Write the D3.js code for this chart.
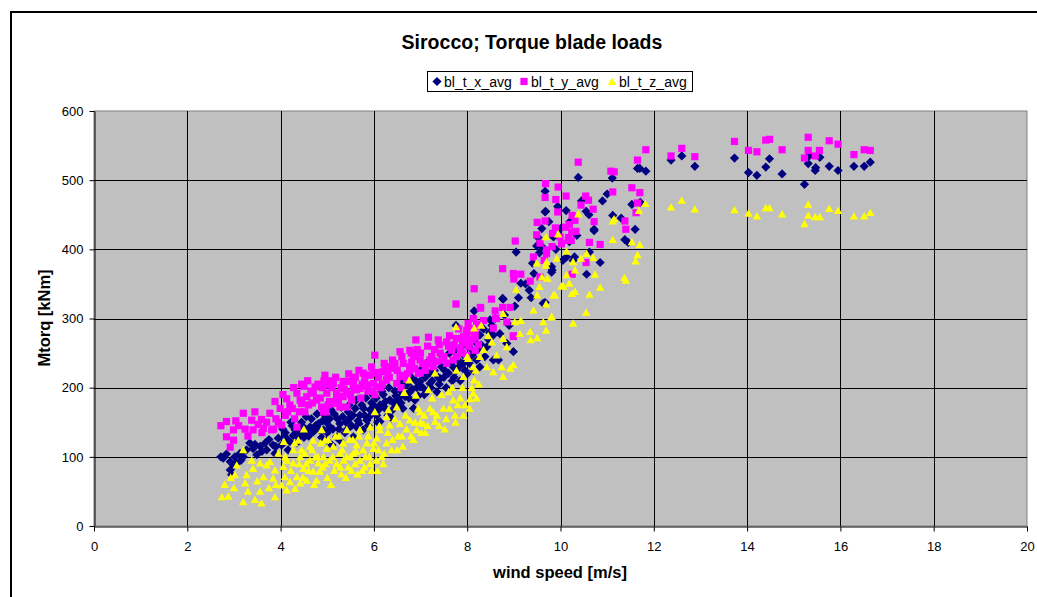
<!DOCTYPE html>
<html>
<head>
<meta charset="utf-8">
<script src="https://cdn.jsdelivr.net/npm/d3@7"></script>
<style>
	body { margin: 0; background: #ffffff; }
	svg { display: block; font-family: "Liberation Sans", Arial, sans-serif; }
</style>
</head>
<body>
<script>
	var chartTitle = "Sirocco; Torque blade loads";
	var xTitle = "wind speed [m/s]";
	var yTitle = "Mtorq [kNm]";
	var seriesNames = [ "bl_t_x_avg", "bl_t_y_avg", "bl_t_z_avg" ];
	var xTicks = [ 0, 2, 4, 6, 8, 10, 12, 14, 16, 18, 20 ];
	var yTicks = [ 0, 100, 200, 300, 400, 500, 600 ];

	// [wind speed, torque]
	var seriesX = [
		[2.72,100],[2.77,98],[2.84,104],[2.92,93],[2.92,81],[2.95,74],[3.02,100],[3.06,91],[3.13,105],[3.20,100],
		[3.27,110],[3.34,120],[3.41,112],[3.49,103],[3.56,115],[3.67,120],[3.70,110],[3.84,117],[3.88,105],[3.95,127],
		[4.02,117],[4.09,129],[4.16,110],[4.20,122],[4.27,131],[4.31,139],[4.42,134],[4.49,143],[4.56,136],[4.63,143],
		[4.70,136],[4.81,148],[4.84,139],[4.92,139],[4.99,124],[5.06,143],[5.10,117],[5.20,129],[5.27,148],[5.27,124],
		[5.42,139],[5.49,156],[5.56,129],[5.63,143],[5.70,160],[5.77,139],[5.85,153],[5.92,168],[6.06,160],[6.13,175],
		[6.13,151],[6.27,168],[6.34,182],[6.38,156],[6.49,175],[6.56,187],[6.56,197],[6.67,187],[6.77,194],[6.77,211],
		[6.88,182],[6.99,201],[6.99,209],[7.20,206],[7.20,221],[7.35,194],[7.42,213],[7.60,221],[7.70,230],[7.77,225],
		[7.92,235],[7.99,240],[8.10,247],[8.13,225],[8.20,264],[7.95,225],[8.27,230],[8.13,250],[8.42,259],[8.56,240],
		[4.05,140],[4.15,125],[4.25,145],[4.38,128],[4.45,150],[4.60,130],[4.66,155],[4.75,145],[4.90,152],[4.95,160],
		[5.00,135],[5.05,155],[5.15,162],[5.25,140],[5.33,158],[5.40,150],[5.45,165],[5.52,145],[5.60,170],[5.66,152],
		[5.74,175],[5.80,160],[5.88,145],[5.95,178],[6.00,165],[6.05,185],[6.10,168],[6.20,190],[6.22,172],[6.30,160],
		[6.42,178],[6.45,195],[6.52,182],[6.60,200],[6.62,170],[6.70,190],[6.72,205],[6.82,198],[6.90,210],[6.95,188],
		[7.05,200],[7.10,215],[7.15,195],[7.25,210],[7.30,225],[7.40,205],[7.45,230],[7.50,215],[7.55,200],[7.65,235],
		[7.72,215],[7.80,240],[7.85,210],[7.90,250],[8.00,220],[8.05,258],[8.20,240],[8.30,262],[8.35,285],[8.45,270],
		[4.10,135],[4.22,150],[4.35,120],[4.50,128],[4.55,158],[4.68,140],[4.78,162],[4.88,128],[4.98,150],[5.08,168],
		[5.12,140],[5.22,155],[5.30,172],[5.38,135],[5.47,175],[5.55,160],[5.62,182],[5.68,148],[5.78,170],[5.83,185],
		[5.90,158],[5.97,190],[6.03,172],[6.08,150],[6.17,195],[6.25,180],[6.32,200],[6.40,168],[6.47,188],[6.55,205],
		[6.58,178],[6.65,210],[6.75,185],[6.80,215],[6.85,170],[6.92,200],[7.00,225],[7.08,190],[7.12,235],[7.22,200],
		[7.28,240],[7.38,215],[7.48,245],[7.52,225],[7.62,250],[7.68,210],[7.75,255],[7.82,230],[7.88,260],[7.95,245],
		[8.05,235],[8.15,270],[8.25,255],[8.38,245],[8.48,280],[3.90,115],[3.75,125],[3.60,108],[3.45,118],[3.15,95],
		[3.00,88],
		[8.67,240],[8.99,252],[8.85,264],[8.56,276],[8.70,278],[8.27,276],[8.53,290],[7.76,290],[8.49,298],[8.15,311],
		[9.02,318],[8.77,328],[8.76,329],[9.37,330],[9.33,341],[9.15,351],[9.43,365],[9.63,322],[9.67,323],[9.05,396],
		[9.49,405],[9.60,404],[9.52,417],[9.81,367],[9.82,370],[9.81,375],[9.85,418],[9.95,420],[10.05,384],[10.13,389],
		[10.27,384],[10.30,389],[10.19,411],[9.67,454],[9.68,455],[9.94,462],[10.12,456],[9.67,484],[10.38,504],[10.55,455],
		[10.61,450],[10.56,364],[10.62,396],[10.72,427],[10.72,429],[10.85,381],[11.11,503],[11.12,449],[11.38,414],[11.53,465],
		[11.60,429],[11.65,517],[11.70,517],[11.71,468],[8.60,300],[8.80,305],[8.90,290],[9.10,330],[9.25,350],[9.40,380],
		[9.55,395],[9.60,430],[9.75,440],[9.90,400],[10.00,430],[10.20,440],[10.35,420],[10.45,470],[10.90,470],[11.00,480],
		[11.30,445],[11.45,410],
		[11.83,513],[12.37,529],[12.60,535],[12.88,520],[13.73,532],[14.03,511],[14.21,507],[14.40,519],[14.48,531],[14.75,509],
		[15.23,494],[15.31,524],[15.33,535],[15.46,514],[15.47,518],[15.56,533],[15.76,520],[15.95,514],[16.29,520],[16.51,520],
		[16.64,526]
	];

	var seriesY = [
		[2.72,145],[2.84,151],[2.99,139],[2.84,129],[2.99,124],[2.92,114],[3.04,152],[3.20,163],[3.24,140],[3.38,153],
		[3.41,139],[3.52,147],[3.59,154],[3.63,141],[3.81,139],[3.77,163],[3.88,180],[3.99,170],[4.02,146],[4.13,184],
		[4.20,175],[4.35,192],[4.35,143],[4.50,202],[4.45,177],[4.56,187],[4.70,192],[4.77,182],[4.74,201],[4.95,218],
		[4.97,165],[5.06,210],[4.99,192],[5.20,192],[5.13,177],[5.42,209],[5.34,187],[5.42,172],[5.63,197],[5.81,218],
		[5.85,204],[5.56,204],[5.99,221],[6.06,201],[6.24,230],[6.38,228],[6.27,211],[6.49,206],[6.63,218],[6.77,230],
		[6.95,221],[7.13,235],[7.17,273],[6.90,269],[6.02,247],[6.56,252],[6.77,254],[7.38,269],[7.56,266],[7.77,271],
		[7.99,276],[8.13,281],[8.02,259],[7.85,257],[7.67,254],[7.42,250],[7.24,245],[6.99,240],[6.81,237],[6.63,235],
		[6.38,230],[6.20,223],[5.92,218],[5.77,221],[5.56,211],[5.34,209],[5.13,206],[4.99,204],[5.42,194],[5.20,187],
		[4.92,165],[5.27,172],[5.70,199],[5.99,206],[6.27,211],[6.56,216],[6.99,221],[6.77,225],[7.27,230],[7.56,235],
		[7.77,245],[7.99,247],[8.17,254],[8.17,273],[4.10,160],[4.25,170],[4.40,165],[4.60,175],[4.65,195],[4.85,185],
		[4.90,200],[5.05,180],[5.30,200],[5.50,190],[5.60,215],[5.75,205],[5.90,195],[6.10,215],[6.15,200],[6.30,220],
		[6.45,235],[6.70,212],[6.85,245],[7.00,250],[7.10,225],[7.30,255],[7.50,245],[7.60,260],[7.70,240],[7.90,265],
		[8.05,285],[4.30,155],[3.70,150],[3.30,130],[3.90,155],
		[4.05,190],[4.15,165],[4.28,200],[4.42,182],[4.52,165],[4.58,210],[4.68,178],[4.80,205],[4.88,172],[4.93,210],
		[5.02,175],[5.10,200],[5.18,215],[5.24,180],[5.36,198],[5.46,220],[5.52,182],[5.58,200],[5.68,225],[5.72,185],
		[5.80,208],[5.87,195],[5.95,230],[6.02,190],[6.08,222],[6.18,205],[6.22,235],[6.33,215],[6.40,240],[6.50,225],
		[6.58,200],[6.60,245],[6.72,220],[6.80,250],[6.88,228],[6.93,255],[7.05,235],[7.15,260],[7.20,240],[7.35,238],
		[7.40,262],[7.48,240],[7.62,275],[7.72,262],[7.82,285],[7.88,250],[7.95,265],[8.10,270],[8.20,292],[3.45,165],
		[3.60,135],[3.95,150],[4.45,205],[3.10,145],[3.85,140],
		[8.15,343],[8.52,328],[7.76,321],[8.28,316],[8.92,316],[8.61,300],[8.35,297],[8.99,275],[8.02,293],[8.29,315],
		[8.60,311],[8.76,316],[8.13,300],[8.63,300],[8.85,295],[8.56,286],[7.99,283],[8.17,281],[7.92,274],[8.06,266],
		[8.24,262],[8.99,274],[8.99,365],[9.15,364],[9.35,354],[8.76,372],[9.03,412],[9.00,357],[9.42,389],[9.49,421],
		[9.50,439],[9.56,409],[9.82,404],[9.70,394],[9.65,384],[9.99,418],[10.17,413],[10.24,425],[9.56,360],
		[9.68,495],[9.95,490],[9.67,475],[9.90,472],[10.12,477],[10.54,477],[10.60,471],[10.44,464],[10.38,526],[11.08,513],
		[11.15,512],[11.53,489],[11.70,482],[11.12,483],[11.65,467],[10.70,458],[9.94,454],[11.62,453],[10.25,449],[9.67,441],
		[10.72,440],[11.38,441],[10.19,436],[10.31,442],[11.40,429],[9.89,431],[10.11,432],[10.33,426],[9.83,423],[10.17,417],
		[10.23,413],[10.62,410],[10.85,407],[10.02,408],[9.70,399],[10.55,381],[10.25,364],[11.65,529],
		[11.83,544],[12.37,535],[12.60,546],[12.88,534],[13.73,556],[14.03,543],[14.21,541],[14.40,558],[14.48,559],[14.75,544],
		[15.31,562],[15.31,543],[15.23,532],[15.46,535],[15.55,543],[15.76,557],[15.95,552],[16.29,537],[16.51,544],[16.64,543]
	];

	var seriesZ = [
		[2.74,42],[2.88,43],[2.93,70],[3.02,74],[3.06,88],[3.20,35],[3.24,62],[3.27,74],[3.41,83],[3.56,91],
		[3.38,95],[3.45,38],[3.56,50],[3.59,33],[3.63,71],[3.70,88],[3.84,69],[3.88,42],[3.88,81],[3.77,93],
		[4.02,59],[4.06,86],[4.13,52],[4.09,71],[4.20,64],[4.13,95],[4.27,91],[4.35,71],[4.31,54],[4.42,100],
		[4.42,62],[4.49,83],[4.56,66],[4.63,95],[4.70,79],[4.77,66],[4.81,91],[4.84,79],[4.63,115],[4.45,110],
		[4.27,110],[4.07,122],[4.38,124],[4.70,124],[3.20,110],[2.80,60],[3.00,55],
		[7.31,221],[6.76,211],[7.17,197],[7.77,225],[8.02,242],[8.15,211],[7.60,194],[6.90,189],[6.65,193],[6.49,172],
		[6.02,165],[6.31,168],[6.99,165],[7.27,165],[7.49,170],[7.70,182],[7.92,160],[7.74,160],[8.06,184],[8.13,192],
		[6.77,153],[6.56,148],[6.34,146],[7.06,148],[6.92,139],[7.31,151],[6.27,158],[6.13,139],[5.92,143],[5.70,139],
		[6.06,127],[5.85,120],[5.63,117],[5.42,139],[5.34,120],[5.13,115],[4.99,112],[4.92,100],[5.27,105],[5.56,105],
		[5.77,110],[5.99,112],[6.27,120],[6.17,100],[4.88,139],[4.95,124],
		[4.90,85],[5.00,70],[5.05,95],[5.15,80],[5.20,90],[5.30,75],[5.35,95],[5.45,85],[5.50,100],[5.60,90],
		[5.65,75],[5.70,95],[5.80,85],[5.90,100],[5.95,80],[6.05,95],[6.10,110],[6.20,90],[6.40,125],[6.50,110],
		[6.60,130],[6.70,140],[6.85,125],[7.00,150],[7.10,135],[7.20,170],[7.40,145],[7.55,155],[7.80,175],[7.90,200],
		[8.05,170],[8.20,185],[4.55,90],[4.75,100],[5.25,130],[5.55,125],[4.50,140],
		[4.10,100],[4.22,80],[4.30,120],[4.40,90],[4.48,70],[4.52,105],[4.60,80],[4.68,110],[4.72,60],[4.80,100],
		[4.86,120],[4.96,90],[5.02,125],[5.08,60],[5.12,100],[5.18,130],[5.28,85],[5.32,110],[5.40,70],[5.42,100],
		[5.48,125],[5.52,80],[5.62,108],[5.68,130],[5.75,80],[5.82,100],[5.88,130],[5.92,90],[6.00,120],[6.08,80],
		[6.12,145],[6.22,105],[6.30,135],[6.38,110],[6.45,155],[6.52,130],[6.62,115],[6.68,160],[6.80,130],[6.88,150],
		[6.95,170],[7.02,135],[7.08,160],[7.15,145],[7.25,185],[7.35,160],[7.45,190],[7.52,140],[7.62,170],[7.68,200],
		[7.75,150],[7.85,185],[7.95,175],[8.10,200],[8.18,225],[8.25,205],[8.35,255],[8.42,230],[8.45,275],[8.30,290],
		[3.90,60],[3.95,105],[3.50,65],[3.30,50],[3.75,55],
		[8.77,307],[9.02,295],[9.35,281],[9.50,272],[9.36,269],[9.63,295],[9.69,283],[9.81,302],[10.27,293],[8.53,266],
		[8.77,271],[8.85,259],[9.13,278],[8.63,247],[8.00,245],[8.27,245],[8.13,230],[8.74,230],[8.92,228],[8.99,233],
		[8.56,223],[8.77,216],[7.92,216],[9.70,382],[9.49,380],[9.60,360],[10.13,363],[9.85,334],[9.50,334],[10.31,339],
		[9.05,342],[9.42,312],[9.69,321],[8.15,286],[7.76,288],[9.15,297],[9.55,346],[9.88,334],[10.24,336],[10.62,335],
		[10.06,347],[9.72,358],[10.31,370],[10.74,364],[9.92,387],[9.69,377],[10.13,397],[9.69,418],[9.95,422],[10.56,394],
		[10.70,388],[10.44,387],[10.27,382],[10.02,347],[10.19,351],[11.37,359],[11.40,355],[10.85,345],[10.55,309],[9.81,303],
		[11.12,414],[11.53,411],[11.70,407],[11.65,392],[11.61,383],[10.38,451],[11.12,441],[11.15,444],[11.68,456],[11.82,466],
		[12.37,461],[12.60,471],[12.88,458],[13.73,457],[14.03,452],[14.21,448],[14.40,460],[14.48,460],[14.75,451],[15.23,437],
		[15.31,465],[15.31,449],[15.46,447],[15.56,447],[15.76,459],[15.95,456],[16.29,448],[16.51,448],[16.64,453]
	];

	var colors = [ "#000080", "#ff00ff", "#ffff00" ];
	var markers = [ "M0,-4.6L4.6,0L0,4.6L-4.6,0Z", "M-3.6,-3.6H3.6V3.6H-3.6Z", "M0,-4L4.2,3.4H-4.2Z" ];

	var width = 1037, height = 597;
	var plot = { left: 94, top: 111, right: 1027, bottom: 526 };

	var svg = d3.select("body").append("svg")//
	.attr("width", width)//
	.attr("height", height);

	// chart frame
	svg.append("rect")//
	.attr("x", 11).attr("y", 12)//
	.attr("width", width + 20).attr("height", height + 20)//
	.attr("fill", "#ffffff")//
	.attr("stroke", "#000000")//
	.attr("stroke-width", 2);

	var x = d3.scaleLinear().domain([ 0, 20 ]).range([ plot.left, plot.right ]);
	var y = d3.scaleLinear().domain([ 0, 600 ]).range([ plot.bottom, plot.top ]);

	// plot area
	svg.append("rect")//
	.attr("x", plot.left).attr("y", plot.top)//
	.attr("width", plot.right - plot.left).attr("height", plot.bottom - plot.top)//
	.attr("fill", "#c0c0c0")//
	.attr("stroke", "#808080")//
	.attr("stroke-width", 1);

	// gridlines
	svg.append("g").selectAll("line").data(xTicks.slice(1, -1)).enter().append("line")//
	.attr("x1", function(d) { return Math.round(x(d)) + 0.5; })//
	.attr("x2", function(d) { return Math.round(x(d)) + 0.5; })//
	.attr("y1", plot.top).attr("y2", plot.bottom)//
	.attr("stroke", "#000000");
	svg.append("g").selectAll("line").data(yTicks.slice(1, -1)).enter().append("line")//
	.attr("y1", function(d) { return Math.round(y(d)) + 0.5; })//
	.attr("y2", function(d) { return Math.round(y(d)) + 0.5; })//
	.attr("x1", plot.left).attr("x2", plot.right)//
	.attr("stroke", "#000000");

	// axes
	svg.append("g")//
	.attr("transform", "translate(0," + (plot.bottom + 0.5) + ")")//
	.call(d3.axisBottom(x).tickValues(xTicks).tickSize(5).tickSizeOuter(0).tickPadding(10));
	svg.append("g")//
	.attr("transform", "translate(" + (plot.left + 0.5) + ",0)")//
	.call(d3.axisLeft(y).tickValues(yTicks).tickSize(5).tickSizeOuter(0).tickPadding(6));
	svg.selectAll(".domain").attr("stroke", "#000000");
	svg.selectAll(".tick text")//
	.attr("font-family", "Liberation Sans, Arial, sans-serif")//
	.attr("font-size", "13px")//
	.attr("fill", "#000000");

	// series, drawn in order so yellow lands on top
	var all = [ seriesX, seriesY, seriesZ ];
	all.forEach(function(series, i) {
		svg.append("g").selectAll("path").data(series).enter().append("path")//
		.attr("d", markers[i])//
		.attr("transform", function(d) {
			return "translate(" + x(d[0]) + "," + y(d[1]) + ")";
		})//
		.attr("fill", colors[i]);
	});

	// titles
	svg.append("text")//
	.attr("x", 532).attr("y", 49)//
	.attr("text-anchor", "middle")//
	.attr("font-size", "19.5px").attr("font-weight", "bold")//
	.text(chartTitle);
	svg.append("text")//
	.attr("x", 560).attr("y", 578)//
	.attr("text-anchor", "middle")//
	.attr("font-size", "16.5px").attr("font-weight", "bold")//
	.text(xTitle);
	svg.append("text")//
	.attr("transform", "translate(50,318) rotate(-90)")//
	.attr("text-anchor", "middle")//
	.attr("font-size", "16.5px").attr("font-weight", "bold")//
	.text(yTitle);

	// legend
	var legend = svg.append("g");
	legend.append("rect")//
	.attr("x", 427.5).attr("y", 71.5)//
	.attr("width", 265).attr("height", 20)//
	.attr("fill", "#ffffff")//
	.attr("stroke", "#000000");
	var legendX = [ 437, 524, 612 ];
	seriesNames.forEach(function(name, i) {
		legend.append("path")//
		.attr("d", markers[i])//
		.attr("transform", "translate(" + legendX[i] + ",81.5)")//
		.attr("fill", colors[i]);
		legend.append("text")//
		.attr("x", legendX[i] + 7).attr("y", 86.5)//
		.attr("font-size", "14px")//
		.text(name);
	});
</script>
</body>
</html>
